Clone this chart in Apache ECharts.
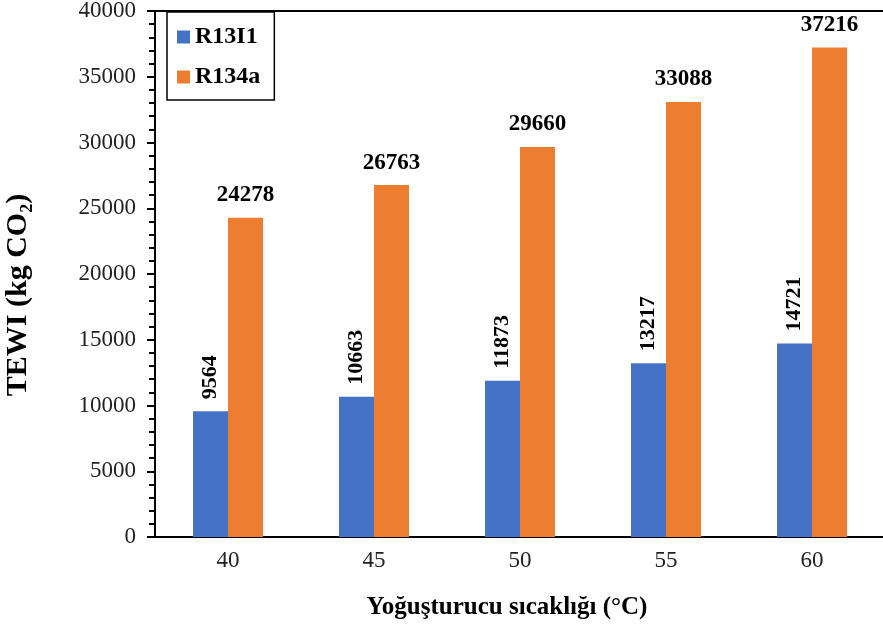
<!DOCTYPE html>
<html>
<head>
<meta charset="utf-8">
<script src="https://cdn.jsdelivr.net/npm/echarts@6/dist/echarts.min.js"></script>
<style>
  html, body { margin: 0; padding: 0; background: #fff; }
  #chart { width: 883px; height: 628px; }
</style>
</head>
<body>
<div id="chart"></div>
<script>
var categories = ['40', '45', '50', '55', '60']
var r13i1 = [9564, 10663, 11873, 13217, 14721]
var r134a = [24278, 26763, 29660, 33088, 37216]

var serif = '"Liberation Serif", "Times New Roman", serif'
var myChart = echarts.init(document.getElementById('chart'))

var option = {
  animation: false,
  textStyle: { fontFamily: serif },
  grid: {
    left: 155,
    right: -2,
    top: 11,
    bottom: 91,
    outerBoundsMode: 'none'
  },
  legend: {
    orient: 'vertical',
    left: 167,
    top: 12,
    padding: [13, 14, 11, 10],
    itemWidth: 13,
    itemHeight: 13,
    itemGap: 16,
    icon: 'rect',
    borderColor: '#000',
    borderWidth: 1.5,
    textStyle: { fontFamily: serif, fontSize: 24, fontWeight: 'bold', color: '#000' },
    data: ['R13I1', 'R134a']
  },
  xAxis: [
    {
      type: 'category',
      data: categories,
      name: 'Yoğuşturucu sıcaklığı (°C)',
      nameLocation: 'middle',
      nameGap: 58,
      nameTextStyle: { fontFamily: serif, fontSize: 25, fontWeight: 'bold', color: '#000', padding: [0, 26, 0, 0] },
      axisLine: { lineStyle: { color: '#000', width: 2 } },
      axisTick: { alignWithLabel: true, length: 6, lineStyle: { color: '#000', width: 2 } },
      axisLabel: { fontFamily: serif, fontSize: 23, color: '#222', margin: 12 }
    },
    {
      type: 'category',
      position: 'top',
      data: categories,
      axisLine: { lineStyle: { color: '#000', width: 2 } },
      axisTick: { show: false },
      axisLabel: { show: false }
    }
  ],
  yAxis: {
    type: 'value',
    min: 0,
    max: 40000,
    interval: 5000,
    name: 'TEWI (kg CO₂)',
    nameLocation: 'middle',
    nameGap: 122,
    nameTextStyle: { fontFamily: serif, fontSize: 30, fontWeight: 'bold', color: '#000', padding: [0, 42, 0, 0] },
    axisLine: { show: true, lineStyle: { color: '#000', width: 2 } },
    axisTick: { show: true, length: 8, lineStyle: { color: '#000', width: 2 } },
    minorTick: { show: true, splitNumber: 5, length: 6, lineStyle: { color: '#000', width: 2 } },
    splitLine: { show: false },
    axisLabel: {
      fontFamily: serif,
      fontSize: 23,
      color: '#222',
      margin: 19,
      formatter: function (v) { return String(v) }
    }
  },
  series: [
    {
      name: 'R13I1',
      type: 'bar',
      data: r13i1,
      barWidth: 35,
      barGap: '0%',
      itemStyle: { color: '#4472C4' },
      label: {
        show: true,
        position: 'top',
        rotate: 90,
        align: 'left',
        verticalAlign: 'middle',
        distance: 12,
        fontFamily: serif,
        fontSize: 22,
        fontWeight: 'bold',
        color: '#000'
      }
    },
    {
      name: 'R134a',
      type: 'bar',
      data: r134a,
      barWidth: 35,
      itemStyle: { color: '#ED7D31' },
      label: {
        show: true,
        position: 'top',
        distance: 11,
        fontFamily: serif,
        fontSize: 23,
        fontWeight: 'bold',
        color: '#000'
      }
    }
  ]
}

option && myChart.setOption(option)
</script>
</body>
</html>
